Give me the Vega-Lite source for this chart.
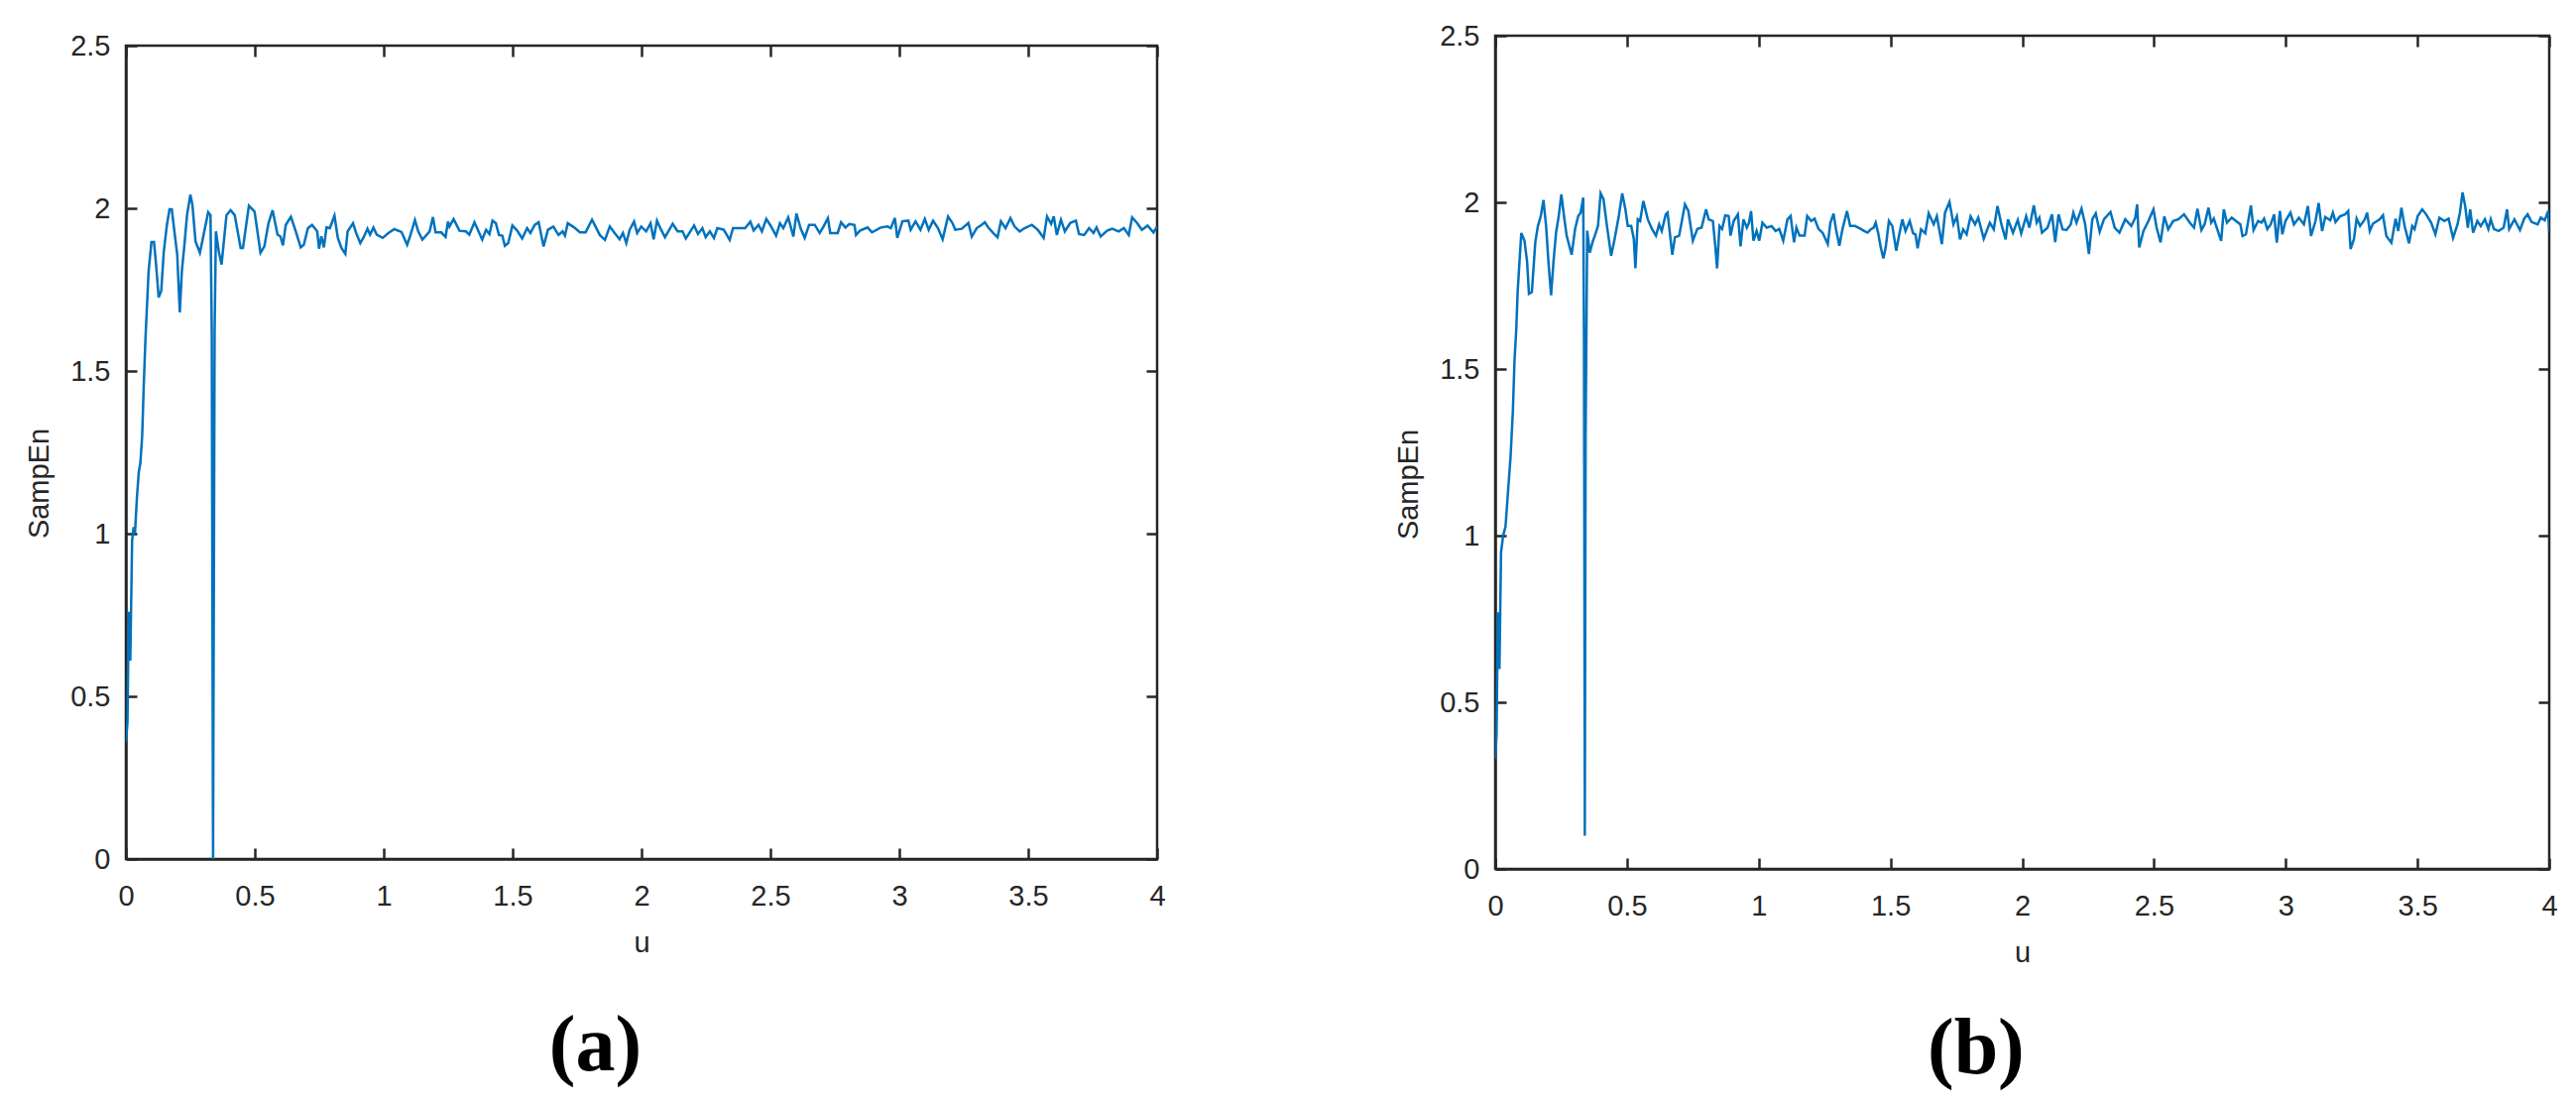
{
  "$schema": "https://vega.github.io/schema/vega-lite/v6.json",
  "background": "white",
  "padding": {"left": 24, "top": 20, "right": 0, "bottom": 0},
  "config": {
    "view": {"stroke": "#262626", "strokeWidth": 2.5},
    "axis": {
      "domainColor": "#262626", "domainWidth": 2.5,
      "tickColor": "#262626", "tickWidth": 2.5, "tickSize": -11,
      "grid": false, "labelFlush": false, "labelOverlap": false,
      "labelFont": "Liberation Sans", "labelFontSize": 29, "labelColor": "#262626",
      "titleFont": "Liberation Sans", "titleFontSize": 29, "titleColor": "#262626", "titleFontWeight": "normal"
    },
    "title": {"font": "Liberation Serif", "fontSize": 80, "fontWeight": "bold", "color": "#000000"}
  },
  "hconcat": [
    {
      "width": 1040, "height": 820,
      "title": {"text": "(a)", "orient": "bottom", "anchor": "middle", "frame": "bounds", "offset": 51},
      "data": {"values": [
        {"u":0,"s":0.36},{"u":0.006,"s":0.42},{"u":0.011,"s":0.76},{"u":0.017,"s":0.61},{"u":0.024,"s":0.98},{"u":0.03,"s":1.02},
        {"u":0.035,"s":1.0},{"u":0.043,"s":1.116},{"u":0.05,"s":1.19},{"u":0.056,"s":1.217},{"u":0.063,"s":1.30},{"u":0.069,"s":1.451},
        {"u":0.076,"s":1.604},{"u":0.082,"s":1.705},{"u":0.088,"s":1.807},{"u":0.099,"s":1.896},{"u":0.109,"s":1.896},{"u":0.117,"s":1.827},
        {"u":0.127,"s":1.726},{"u":0.137,"s":1.746},{"u":0.147,"s":1.868},{"u":0.159,"s":1.949},{"u":0.169,"s":1.997},{"u":0.178,"s":1.997},
        {"u":0.188,"s":1.929},{"u":0.199,"s":1.858},{"u":0.209,"s":1.68},{"u":0.217,"s":1.807},{"u":0.227,"s":1.888},{"u":0.237,"s":1.979},
        {"u":0.25,"s":2.042},{"u":0.258,"s":2.01},{"u":0.27,"s":1.898},{"u":0.287,"s":1.863},{"u":0.304,"s":1.929},{"u":0.319,"s":1.988},
        {"u":0.328,"s":1.979},{"u":0.333,"s":1.62},{"u":0.338,"s":0.0},{"u":0.344,"s":1.62},{"u":0.349,"s":1.929},{"u":0.36,"s":1.868},
        {"u":0.371,"s":1.827},{"u":0.39,"s":1.979},{"u":0.406,"s":1.994},{"u":0.422,"s":1.979},{"u":0.445,"s":1.878},{"u":0.454,"s":1.878},
        {"u":0.477,"s":2.008},{"u":0.499,"s":1.99},{"u":0.522,"s":1.863},{"u":0.537,"s":1.883},{"u":0.553,"s":1.954},{"u":0.569,"s":1.994},
        {"u":0.588,"s":1.919},{"u":0.599,"s":1.914},{"u":0.609,"s":1.886},{"u":0.62,"s":1.949},{"u":0.64,"s":1.974},{"u":0.659,"s":1.929},
        {"u":0.678,"s":1.88},{"u":0.69,"s":1.888},{"u":0.706,"s":1.939},{"u":0.722,"s":1.949},{"u":0.742,"s":1.929},{"u":0.749,"s":1.876},
        {"u":0.758,"s":1.914},{"u":0.768,"s":1.88},{"u":0.778,"s":1.941},{"u":0.791,"s":1.939},{"u":0.809,"s":1.977},{"u":0.822,"s":1.909},
        {"u":0.836,"s":1.878},{"u":0.851,"s":1.86},{"u":0.86,"s":1.929},{"u":0.881,"s":1.954},{"u":0.893,"s":1.924},{"u":0.909,"s":1.893},
        {"u":0.922,"s":1.911},{"u":0.937,"s":1.937},{"u":0.947,"s":1.919},{"u":0.96,"s":1.941},{"u":0.973,"s":1.919},{"u":0.996,"s":1.909},
        {"u":1.018,"s":1.924},{"u":1.041,"s":1.936},{"u":1.069,"s":1.927},{"u":1.091,"s":1.888},{"u":1.104,"s":1.919},{"u":1.121,"s":1.964},
        {"u":1.134,"s":1.929},{"u":1.15,"s":1.904},{"u":1.178,"s":1.929},{"u":1.191,"s":1.973},{"u":1.201,"s":1.926},{"u":1.223,"s":1.926},
        {"u":1.24,"s":1.912},{"u":1.249,"s":1.959},{"u":1.255,"s":1.944},{"u":1.271,"s":1.967},{"u":1.294,"s":1.931},{"u":1.319,"s":1.929},
        {"u":1.332,"s":1.919},{"u":1.352,"s":1.957},{"u":1.382,"s":1.904},{"u":1.397,"s":1.934},{"u":1.41,"s":1.921},{"u":1.422,"s":1.962},
        {"u":1.435,"s":1.954},{"u":1.447,"s":1.918},{"u":1.46,"s":1.916},{"u":1.47,"s":1.885},{"u":1.483,"s":1.893},{"u":1.499,"s":1.947},
        {"u":1.518,"s":1.931},{"u":1.537,"s":1.907},{"u":1.556,"s":1.939},{"u":1.569,"s":1.924},{"u":1.586,"s":1.949},{"u":1.601,"s":1.957},
        {"u":1.62,"s":1.883},{"u":1.637,"s":1.934},{"u":1.658,"s":1.944},{"u":1.678,"s":1.918},{"u":1.694,"s":1.929},{"u":1.703,"s":1.916},
        {"u":1.714,"s":1.954},{"u":1.739,"s":1.941},{"u":1.761,"s":1.926},{"u":1.783,"s":1.926},{"u":1.808,"s":1.965},{"u":1.838,"s":1.918},
        {"u":1.858,"s":1.903},{"u":1.877,"s":1.944},{"u":1.896,"s":1.924},{"u":1.915,"s":1.905},{"u":1.928,"s":1.924},{"u":1.941,"s":1.893},
        {"u":1.954,"s":1.934},{"u":1.971,"s":1.959},{"u":1.983,"s":1.924},{"u":1.999,"s":1.944},{"u":2.018,"s":1.929},{"u":2.035,"s":1.954},
        {"u":2.047,"s":1.905},{"u":2.06,"s":1.962},{"u":2.076,"s":1.934},{"u":2.091,"s":1.911},{"u":2.121,"s":1.952},{"u":2.14,"s":1.929},
        {"u":2.159,"s":1.929},{"u":2.172,"s":1.907},{"u":2.191,"s":1.931},{"u":2.204,"s":1.947},{"u":2.219,"s":1.921},{"u":2.236,"s":1.939},
        {"u":2.249,"s":1.911},{"u":2.265,"s":1.929},{"u":2.281,"s":1.909},{"u":2.294,"s":1.939},{"u":2.319,"s":1.934},{"u":2.342,"s":1.903},
        {"u":2.355,"s":1.939},{"u":2.377,"s":1.939},{"u":2.402,"s":1.939},{"u":2.422,"s":1.959},{"u":2.435,"s":1.932},{"u":2.454,"s":1.949},
        {"u":2.467,"s":1.929},{"u":2.484,"s":1.967},{"u":2.499,"s":1.949},{"u":2.522,"s":1.916},{"u":2.537,"s":1.954},{"u":2.55,"s":1.939},
        {"u":2.569,"s":1.972},{"u":2.589,"s":1.913},{"u":2.601,"s":1.984},{"u":2.617,"s":1.939},{"u":2.633,"s":1.909},{"u":2.65,"s":1.949},
        {"u":2.672,"s":1.949},{"u":2.691,"s":1.924},{"u":2.704,"s":1.941},{"u":2.723,"s":1.97},{"u":2.732,"s":1.924},{"u":2.761,"s":1.924},
        {"u":2.774,"s":1.957},{"u":2.791,"s":1.941},{"u":2.806,"s":1.952},{"u":2.826,"s":1.949},{"u":2.832,"s":1.918},{"u":2.847,"s":1.931},
        {"u":2.877,"s":1.941},{"u":2.894,"s":1.926},{"u":2.928,"s":1.941},{"u":2.954,"s":1.944},{"u":2.967,"s":1.939},{"u":2.983,"s":1.97},
        {"u":2.992,"s":1.909},{"u":3.012,"s":1.96},{"u":3.035,"s":1.962},{"u":3.044,"s":1.934},{"u":3.063,"s":1.96},{"u":3.082,"s":1.934},
        {"u":3.099,"s":1.967},{"u":3.114,"s":1.934},{"u":3.131,"s":1.962},{"u":3.15,"s":1.939},{"u":3.168,"s":1.905},{"u":3.189,"s":1.975},
        {"u":3.206,"s":1.955},{"u":3.217,"s":1.934},{"u":3.242,"s":1.937},{"u":3.268,"s":1.955},{"u":3.281,"s":1.913},{"u":3.3,"s":1.939},
        {"u":3.319,"s":1.949},{"u":3.332,"s":1.957},{"u":3.345,"s":1.941},{"u":3.364,"s":1.924},{"u":3.381,"s":1.911},{"u":3.394,"s":1.96},
        {"u":3.412,"s":1.939},{"u":3.431,"s":1.97},{"u":3.447,"s":1.944},{"u":3.467,"s":1.929},{"u":3.486,"s":1.939},{"u":3.514,"s":1.949},
        {"u":3.537,"s":1.934},{"u":3.56,"s":1.909},{"u":3.573,"s":1.975},{"u":3.589,"s":1.952},{"u":3.599,"s":1.975},{"u":3.611,"s":1.918},
        {"u":3.627,"s":1.965},{"u":3.642,"s":1.929},{"u":3.663,"s":1.955},{"u":3.685,"s":1.962},{"u":3.697,"s":1.921},{"u":3.717,"s":1.918},
        {"u":3.736,"s":1.939},{"u":3.753,"s":1.924},{"u":3.765,"s":1.941},{"u":3.781,"s":1.913},{"u":3.806,"s":1.931},{"u":3.826,"s":1.937},
        {"u":3.851,"s":1.929},{"u":3.871,"s":1.939},{"u":3.89,"s":1.918},{"u":3.903,"s":1.972},{"u":3.922,"s":1.955},{"u":3.941,"s":1.934},
        {"u":3.963,"s":1.947},{"u":3.986,"s":1.926},{"u":4.0,"s":1.944}
      ]},
      "layer": [
        {
          "mark": {"type": "line", "color": "#0072BD", "strokeWidth": 2.5, "clip": true},
          "encoding": {
            "x": {"field": "u", "type": "quantitative", "scale": {"domain": [0, 4], "nice": false, "zero": false},
                  "axis": {"orient": "bottom", "title": "u", "values": [0,0.5,1,1.5,2,2.5,3,3.5,4], "format": ".1~f", "labelPadding": 34, "titlePadding": 18}},
            "y": {"field": "s", "type": "quantitative", "scale": {"domain": [0, 2.5], "nice": false, "zero": false},
                  "axis": {"orient": "left", "title": "SampEn", "titleY": 441, "values": [0,0.5,1,1.5,2,2.5], "format": ".1~f", "labelPadding": 27, "titlePadding": 16}}
          }
        },
        {
          "mark": {"type": "line", "opacity": 0},
          "encoding": {
            "x": {"field": "u", "type": "quantitative", "axis": {"orient": "top", "title": null, "labels": false, "domain": false, "values": [0,0.5,1,1.5,2,2.5,3,3.5,4]}},
            "y": {"field": "s", "type": "quantitative", "axis": {"orient": "right", "title": null, "labels": false, "domain": false, "values": [0,0.5,1,1.5,2,2.5]}}
          }
        }
      ],
      "resolve": {"axis": {"x": "independent", "y": "independent"}}
    },
    {
      "width": 1063, "height": 840,
      "title": {"text": "(b)", "orient": "bottom", "anchor": "middle", "frame": "bounds", "offset": 44},
      "data": {"values": [
        {"u":0,"s":0.33},{"u":0.005,"s":0.40},{"u":0.01,"s":0.77},{"u":0.016,"s":0.60},{"u":0.022,"s":0.95},{"u":0.03,"s":1.0},
        {"u":0.039,"s":1.027},{"u":0.048,"s":1.126},{"u":0.058,"s":1.235},{"u":0.067,"s":1.374},{"u":0.073,"s":1.522},{"u":0.08,"s":1.622},
        {"u":0.085,"s":1.731},{"u":0.092,"s":1.821},{"u":0.099,"s":1.908},{"u":0.111,"s":1.885},{"u":0.121,"s":1.821},{"u":0.128,"s":1.726},
        {"u":0.139,"s":1.731},{"u":0.152,"s":1.88},{"u":0.162,"s":1.929},{"u":0.173,"s":1.959},{"u":0.183,"s":2.007},{"u":0.193,"s":1.929},
        {"u":0.202,"s":1.821},{"u":0.212,"s":1.721},{"u":0.221,"s":1.821},{"u":0.231,"s":1.91},{"u":0.241,"s":1.959},{"u":0.251,"s":2.024},
        {"u":0.261,"s":1.959},{"u":0.271,"s":1.9},{"u":0.29,"s":1.843},{"u":0.303,"s":1.92},{"u":0.315,"s":1.959},{"u":0.324,"s":1.969},
        {"u":0.334,"s":2.014},{"u":0.337,"s":1.58},{"u":0.34,"s":0.1},{"u":0.343,"s":1.3},{"u":0.349,"s":1.915},{"u":0.359,"s":1.849},
        {"u":0.369,"s":1.88},{"u":0.378,"s":1.9},{"u":0.39,"s":1.929},{"u":0.4,"s":2.027},{"u":0.411,"s":2.009},{"u":0.424,"s":1.929},
        {"u":0.44,"s":1.84},{"u":0.453,"s":1.89},{"u":0.469,"s":1.959},{"u":0.482,"s":2.027},{"u":0.494,"s":1.979},{"u":0.503,"s":1.929},
        {"u":0.516,"s":1.929},{"u":0.526,"s":1.89},{"u":0.532,"s":1.802},{"u":0.541,"s":1.949},{"u":0.55,"s":1.944},{"u":0.562,"s":2.004},
        {"u":0.579,"s":1.949},{"u":0.595,"s":1.92},{"u":0.61,"s":1.9},{"u":0.622,"s":1.934},{"u":0.632,"s":1.914},{"u":0.647,"s":1.964},
        {"u":0.654,"s":1.969},{"u":0.672,"s":1.843},{"u":0.682,"s":1.895},{"u":0.698,"s":1.9},{"u":0.72,"s":1.994},{"u":0.733,"s":1.974},
        {"u":0.75,"s":1.885},{"u":0.767,"s":1.92},{"u":0.783,"s":1.924},{"u":0.8,"s":1.979},{"u":0.81,"s":1.949},{"u":0.826,"s":1.944},
        {"u":0.835,"s":1.87},{"u":0.842,"s":1.802},{"u":0.851,"s":1.929},{"u":0.861,"s":1.92},{"u":0.873,"s":1.961},{"u":0.886,"s":1.959},
        {"u":0.893,"s":1.9},{"u":0.905,"s":1.944},{"u":0.921,"s":1.964},{"u":0.931,"s":1.868},{"u":0.942,"s":1.949},{"u":0.955,"s":1.924},
        {"u":0.963,"s":1.939},{"u":0.971,"s":1.974},{"u":0.98,"s":1.885},{"u":0.992,"s":1.914},{"u":1.002,"s":1.885},{"u":1.014,"s":1.939},
        {"u":1.03,"s":1.924},{"u":1.049,"s":1.929},{"u":1.064,"s":1.914},{"u":1.078,"s":1.92},{"u":1.093,"s":1.885},{"u":1.109,"s":1.949},
        {"u":1.121,"s":1.959},{"u":1.134,"s":1.88},{"u":1.143,"s":1.924},{"u":1.155,"s":1.9},{"u":1.174,"s":1.9},{"u":1.184,"s":1.959},
        {"u":1.199,"s":1.944},{"u":1.212,"s":1.951},{"u":1.227,"s":1.92},{"u":1.243,"s":1.908},{"u":1.262,"s":1.875},{"u":1.272,"s":1.939},
        {"u":1.284,"s":1.966},{"u":1.293,"s":1.92},{"u":1.306,"s":1.87},{"u":1.318,"s":1.92},{"u":1.335,"s":1.974},{"u":1.347,"s":1.929},
        {"u":1.365,"s":1.929},{"u":1.388,"s":1.92},{"u":1.4,"s":1.914},{"u":1.413,"s":1.909},{"u":1.425,"s":1.919},{"u":1.436,"s":1.924},
        {"u":1.444,"s":1.939},{"u":1.453,"s":1.909},{"u":1.463,"s":1.865},{"u":1.473,"s":1.832},{"u":1.482,"s":1.865},{"u":1.494,"s":1.944},
        {"u":1.507,"s":1.929},{"u":1.522,"s":1.855},{"u":1.532,"s":1.899},{"u":1.545,"s":1.949},{"u":1.557,"s":1.914},{"u":1.573,"s":1.944},
        {"u":1.586,"s":1.907},{"u":1.595,"s":1.904},{"u":1.603,"s":1.862},{"u":1.616,"s":1.919},{"u":1.632,"s":1.907},{"u":1.645,"s":1.967},
        {"u":1.664,"s":1.934},{"u":1.676,"s":1.958},{"u":1.695,"s":1.875},{"u":1.707,"s":1.969},{"u":1.724,"s":2.001},{"u":1.739,"s":1.934},
        {"u":1.752,"s":1.958},{"u":1.764,"s":1.889},{"u":1.776,"s":1.919},{"u":1.789,"s":1.904},{"u":1.804,"s":1.958},{"u":1.821,"s":1.934},
        {"u":1.833,"s":1.954},{"u":1.854,"s":1.891},{"u":1.877,"s":1.939},{"u":1.892,"s":1.919},{"u":1.906,"s":1.989},{"u":1.921,"s":1.934},
        {"u":1.937,"s":1.889},{"u":1.946,"s":1.949},{"u":1.965,"s":1.909},{"u":1.983,"s":1.947},{"u":1.996,"s":1.907},{"u":2.015,"s":1.958},
        {"u":2.027,"s":1.924},{"u":2.044,"s":1.991},{"u":2.055,"s":1.939},{"u":2.065,"s":1.954},{"u":2.075,"s":1.909},{"u":2.096,"s":1.924},
        {"u":2.113,"s":1.964},{"u":2.125,"s":1.881},{"u":2.138,"s":1.964},{"u":2.153,"s":1.919},{"u":2.168,"s":1.917},{"u":2.184,"s":1.934},
        {"u":2.194,"s":1.969},{"u":2.206,"s":1.939},{"u":2.225,"s":1.981},{"u":2.239,"s":1.934},{"u":2.253,"s":1.845},{"u":2.266,"s":1.949},
        {"u":2.279,"s":1.967},{"u":2.294,"s":1.912},{"u":2.31,"s":1.949},{"u":2.335,"s":1.971},{"u":2.351,"s":1.924},{"u":2.369,"s":1.909},
        {"u":2.391,"s":1.949},{"u":2.414,"s":1.929},{"u":2.429,"s":1.954},{"u":2.436,"s":1.994},{"u":2.444,"s":1.865},{"u":2.46,"s":1.914},
        {"u":2.479,"s":1.944},{"u":2.498,"s":1.979},{"u":2.51,"s":1.924},{"u":2.525,"s":1.88},{"u":2.539,"s":1.958},{"u":2.554,"s":1.919},
        {"u":2.573,"s":1.944},{"u":2.592,"s":1.949},{"u":2.614,"s":1.964},{"u":2.636,"s":1.939},{"u":2.652,"s":1.924},{"u":2.665,"s":1.981},
        {"u":2.68,"s":1.917},{"u":2.692,"s":1.934},{"u":2.707,"s":1.984},{"u":2.717,"s":1.939},{"u":2.727,"s":1.951},{"u":2.74,"s":1.92},
        {"u":2.755,"s":1.884},{"u":2.765,"s":1.979},{"u":2.777,"s":1.939},{"u":2.795,"s":1.954},{"u":2.811,"s":1.944},{"u":2.828,"s":1.934},
        {"u":2.836,"s":1.899},{"u":2.849,"s":1.904},{"u":2.868,"s":1.991},{"u":2.878,"s":1.917},{"u":2.895,"s":1.944},{"u":2.908,"s":1.939},
        {"u":2.918,"s":1.951},{"u":2.93,"s":1.92},{"u":2.943,"s":1.934},{"u":2.956,"s":1.964},{"u":2.966,"s":1.879},{"u":2.978,"s":1.974},
        {"u":2.987,"s":1.904},{"u":2.999,"s":1.944},{"u":3.018,"s":1.969},{"u":3.031,"s":1.934},{"u":3.05,"s":1.954},{"u":3.069,"s":1.934},
        {"u":3.084,"s":1.989},{"u":3.096,"s":1.899},{"u":3.113,"s":1.944},{"u":3.125,"s":1.998},{"u":3.138,"s":1.914},{"u":3.15,"s":1.956},
        {"u":3.169,"s":1.946},{"u":3.179,"s":1.969},{"u":3.189,"s":1.941},{"u":3.206,"s":1.958},{"u":3.225,"s":1.964},{"u":3.237,"s":1.974},
        {"u":3.246,"s":1.86},{"u":3.259,"s":1.89},{"u":3.269,"s":1.951},{"u":3.282,"s":1.929},{"u":3.3,"s":1.949},{"u":3.309,"s":1.969},
        {"u":3.319,"s":1.914},{"u":3.331,"s":1.936},{"u":3.357,"s":1.949},{"u":3.369,"s":1.961},{"u":3.382,"s":1.899},{"u":3.401,"s":1.879},
        {"u":3.417,"s":1.951},{"u":3.427,"s":1.914},{"u":3.439,"s":1.984},{"u":3.451,"s":1.929},{"u":3.468,"s":1.877},{"u":3.48,"s":1.929},
        {"u":3.489,"s":1.92},{"u":3.501,"s":1.959},{"u":3.518,"s":1.979},{"u":3.533,"s":1.964},{"u":3.552,"s":1.939},{"u":3.568,"s":1.904},
        {"u":3.583,"s":1.954},{"u":3.602,"s":1.944},{"u":3.618,"s":1.951},{"u":3.635,"s":1.893},{"u":3.652,"s":1.934},{"u":3.661,"s":1.969},
        {"u":3.671,"s":2.03},{"u":3.681,"s":1.989},{"u":3.691,"s":1.924},{"u":3.7,"s":1.979},{"u":3.711,"s":1.909},{"u":3.727,"s":1.944},
        {"u":3.74,"s":1.929},{"u":3.756,"s":1.949},{"u":3.769,"s":1.92},{"u":3.778,"s":1.949},{"u":3.79,"s":1.92},{"u":3.808,"s":1.914},
        {"u":3.827,"s":1.924},{"u":3.84,"s":1.979},{"u":3.848,"s":1.92},{"u":3.868,"s":1.949},{"u":3.889,"s":1.917},{"u":3.905,"s":1.951},
        {"u":3.918,"s":1.964},{"u":3.933,"s":1.941},{"u":3.956,"s":1.934},{"u":3.968,"s":1.954},{"u":3.983,"s":1.946},{"u":3.996,"s":1.974},
        {"u":4.0,"s":1.914}
      ]},
      "layer": [
        {
          "mark": {"type": "line", "color": "#0072BD", "strokeWidth": 2.5, "clip": true},
          "encoding": {
            "x": {"field": "u", "type": "quantitative", "scale": {"domain": [0, 4], "nice": false, "zero": false},
                  "axis": {"orient": "bottom", "title": "u", "values": [0,0.5,1,1.5,2,2.5,3,3.5,4], "format": ".1~f", "labelPadding": 34, "titlePadding": 18}},
            "y": {"field": "s", "type": "quantitative", "scale": {"domain": [0, 2.5], "nice": false, "zero": false},
                  "axis": {"orient": "left", "title": "SampEn", "titleY": 452, "values": [0,0.5,1,1.5,2,2.5], "format": ".1~f", "labelPadding": 27, "titlePadding": 16}}
          }
        },
        {
          "mark": {"type": "line", "opacity": 0},
          "encoding": {
            "x": {"field": "u", "type": "quantitative", "axis": {"orient": "top", "title": null, "labels": false, "domain": false, "values": [0,0.5,1,1.5,2,2.5,3,3.5,4]}},
            "y": {"field": "s", "type": "quantitative", "axis": {"orient": "right", "title": null, "labels": false, "domain": false, "values": [0,0.5,1,1.5,2,2.5]}}
          }
        }
      ],
      "resolve": {"axis": {"x": "independent", "y": "independent"}}
    }
  ],
  "spacing": 341,
  "bounds": "flush",
  "center": true
}
